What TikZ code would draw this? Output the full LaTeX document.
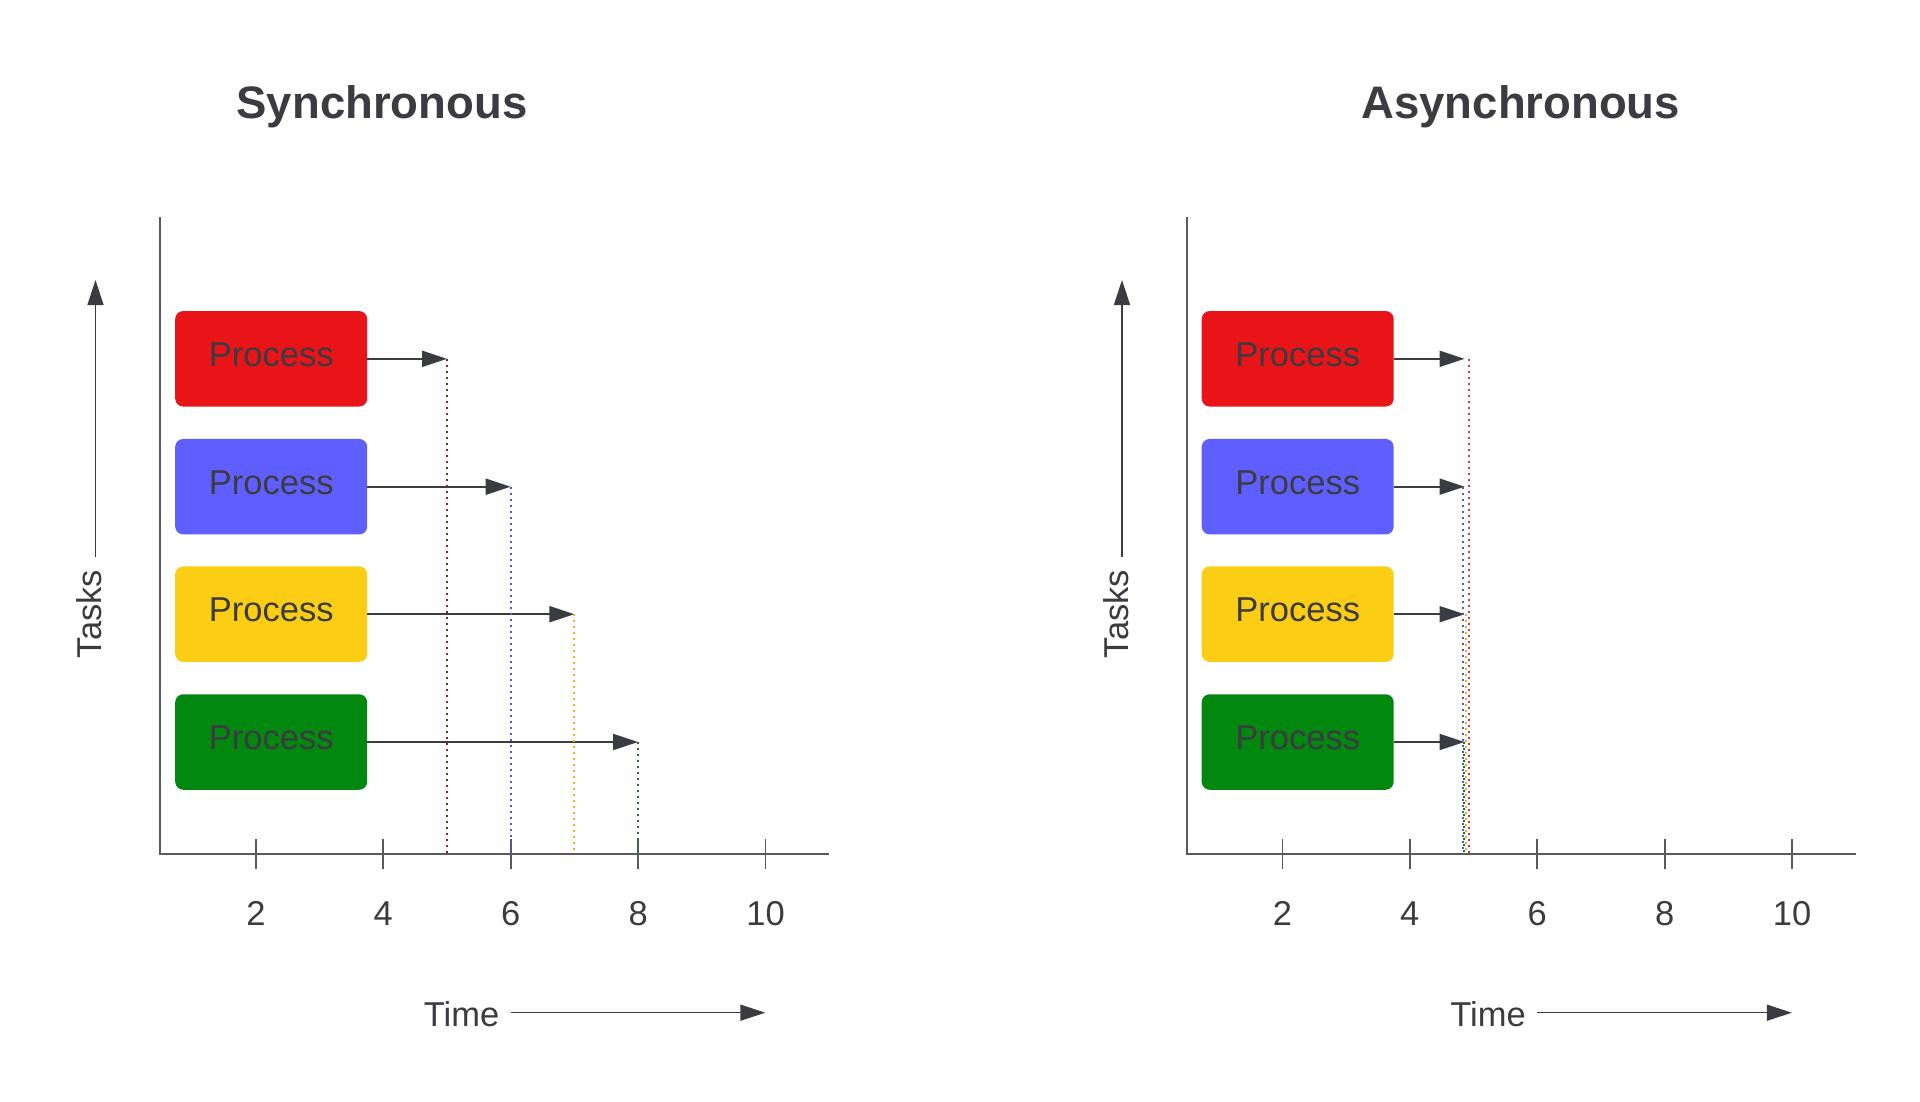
\documentclass[tikz,border=0pt]{standalone}
\usepackage{fontspec}
\setmainfont{Liberation Sans}
\usetikzlibrary{arrows.meta}
\definecolor{txt}{HTML}{3B3B41}
\definecolor{axisc}{HTML}{5A5A5E}
\definecolor{arrc}{HTML}{3A3C42}
\definecolor{cred}{HTML}{E81418}
\definecolor{cblue}{HTML}{5F5FFF}
\definecolor{cyellow}{HTML}{FBCD14}
\definecolor{cgreen}{HTML}{02870F}
\definecolor{dred}{HTML}{9A1C22}
\definecolor{dredb}{HTML}{E0303A}
\definecolor{dblue}{HTML}{5050F0}
\definecolor{dyellow}{HTML}{E8B420}
\definecolor{dgreen}{HTML}{107A18}
\tikzset{
  procbox/.style={rounded corners=8pt, minimum width=192pt, minimum height=95.5pt,
    inner sep=0pt, text=txt, font=\fontsize{34.5}{40}\selectfont,
    text height=25pt, text depth=10pt},
  axisline/.style={draw=axisc, line width=2pt},
  tickline/.style={draw=axisc, line width=1.8pt},
  procarrow/.style={draw=arrc, line width=2pt, -{Triangle[length=25pt,width=16pt]}},
  thinarrow/.style={draw=arrc, line width=1.4pt, -{Triangle[length=25pt,width=16pt]}},
  dotline/.style={line width=2pt, dash pattern=on 2pt off 4pt},
  lbl/.style={text=txt, font=\fontsize{34.5}{40}\selectfont, inner sep=0pt},
  ttl/.style={text=txt, font=\fontsize{45.5}{52}\selectfont\bfseries, inner sep=0pt}
}
\begin{document}
\begin{tikzpicture}[x=1pt,y=-1pt]
\useasboundingbox (0,0) rectangle (1920,1102);
\fill[white] (0,0) rectangle (1920,1102);

% ---------- titles ----------
\node[ttl] (sTitle) at (382,107) {Synchronous};
\node[ttl] (aTitle) at (1520.8,107) {Asynchronous};

\foreach \pre/\off in {s/0, a/1026.5} {
  \begin{scope}[xshift=\off pt]
    % axes
    \coordinate (\pre ytop) at (160.4,216.7);
    \coordinate (\pre orig) at (160.4,853.5);
    \coordinate (\pre xend) at (829,853.5);
    \draw[axisline] (\pre ytop) -- (\pre orig) -- (\pre xend);
    % ticks and labels
    \foreach \t in {2,4,6,8,10} {
      \pgfmathsetmacro{\xx}{128.5+63.7*\t}
      \coordinate (\pre tickA\t) at (\xx,838.5);
      \coordinate (\pre tickB\t) at (\xx,868.5);
      \draw[tickline] (\pre tickA\t) -- (\pre tickB\t);
      \node[lbl] (\pre tl\t) at (\xx,913.5) {\t};
    }
    % tasks axis
    \node[lbl, rotate=90] (\pre tasks) at (89.4,614) {Tasks};
    \coordinate (\pre tasksTop) at (95.5,280);
    \coordinate (\pre tasksBot) at (95.5,557);
    \draw[thinarrow] (\pre tasksBot) -- (\pre tasksTop);
    % time axis
    \node[lbl] (\pre time) at (461.6,1013.9) {Time};
    \coordinate (\pre timeStart) at (510.6,1012.7);
    \coordinate (\pre timeEnd) at (765.3,1012.7);
    \draw[thinarrow] (\pre timeStart) -- (\pre timeEnd);
    % boxes
    \node[procbox, fill=cred]    (\pre r) at (271.2,358.8) {Process};
    \node[procbox, fill=cblue]   (\pre b) at (271.2,486.7) {Process};
    \node[procbox, fill=cyellow] (\pre y) at (271.2,614.2) {Process};
    \node[procbox, fill=cgreen]  (\pre g) at (271.2,742.0) {Process};
  \end{scope}
}

% ---------- synchronous arrows ----------
\coordinate (sre) at (447.0,358.8);
\coordinate (sbe) at (510.7,486.7);
\coordinate (sye) at (574.4,614.2);
\coordinate (sge) at (638.1,742.0);
\draw[procarrow] (sr.east) -- (sre);
\draw[procarrow] (sb.east) -- (sbe);
\draw[procarrow] (sy.east) -- (sye);
\draw[procarrow] (sg.east) -- (sge);
\draw[dotline, draw=dred]    (sre) -- (sre |- sorig);
\draw[dotline, draw=dblue]   (sbe) -- (sbe |- sorig);
\draw[dotline, draw=dyellow] (sye) -- (sye |- sorig);
\draw[dotline, draw=dgreen]  (sge) -- (sge |- sorig);

% ---------- asynchronous arrows ----------
\coordinate (are) at (1464.5,358.8);
\coordinate (abe) at (1464.5,486.7);
\coordinate (aye) at (1464.5,614.2);
\coordinate (age) at (1464.5,742.0);
\draw[procarrow] (ar.east) -- (are);
\draw[procarrow] (ab.east) -- (abe);
\draw[procarrow] (ay.east) -- (aye);
\draw[procarrow] (ag.east) -- (age);
\coordinate (ard) at (1469.4,358.8);
\coordinate (abd) at (1462.6,486.7);
\coordinate (ayd) at (1465.6,614.2);
\coordinate (agd) at (1464.0,742.0);
\draw[dotline, draw=dredb]   (ard) -- (ard |- aorig);
\draw[dotline, draw=dblue]   (abd) -- (abd |- aorig);
\draw[dotline, draw=dyellow] (ayd) -- (ayd |- aorig);
\draw[dotline, draw=dgreen]  (agd) -- (agd |- aorig);
\end{tikzpicture}
\end{document}
